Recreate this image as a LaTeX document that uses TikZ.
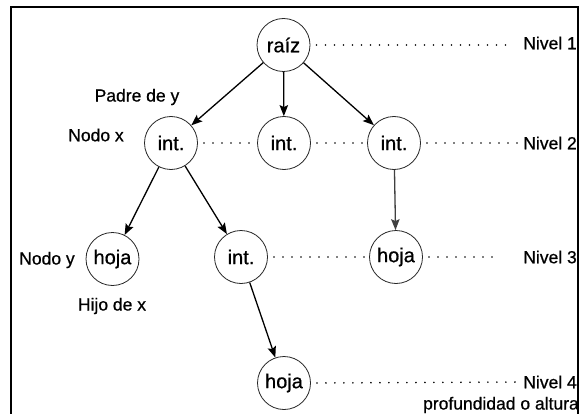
\documentclass[tikz,border=0pt]{standalone}
\usepackage{fontspec}
\setmainfont{Liberation Sans}[FakeBold=0.7]
\usetikzlibrary{arrows.meta}
\begin{document}
\begin{tikzpicture}[x=1pt,y=-1pt,
  treenode/.style={circle,draw=black!85,line width=0.8pt,minimum size=53pt,inner sep=0pt,font=\fontsize{20}{20}\selectfont},
  lbl/.style={inner sep=0pt,font=\fontsize{17.5}{17.5}\selectfont},
  edge/.style={line width=1.3pt,-{Stealth[length=11pt,width=8.5pt,inset=2pt]}},
  levelline/.style={line width=1.8pt,line cap=round,dash pattern=on 0pt off 9pt},
  frameline/.style={line width=1.4pt}]
\useasboundingbox (0,0) rectangle (585,414);

% open frame: left, top and right sides
\draw[frameline] (11,414) -- (11,7) -- (578,7) -- (578,414);

% tree nodes
\node[treenode] (r) at (283.5,45) {raíz};
\node[treenode] (a) at (171,143) {int.};
\node[treenode] (b) at (284,143) {int.};
\node[treenode] (c) at (394,143) {int.};
\node[treenode] (d) at (112.5,259) {hoja};
\node[treenode] (e) at (241,257) {int.};
\node[treenode] (f) at (396,257) {hoja};
\node[treenode] (g) at (284,383) {hoja};

% side labels
\node[lbl] (padre) at (137,97) {Padre de y};
\node[lbl] (nodox) at (96,135) {Nodo x};
\node[lbl] (nodoy) at (47,260) {Nodo y};
\node[lbl] (hijo) at (112,306) {Hijo de x};

% level labels
\node[lbl,anchor=east] (n1) at (577,43) {Nivel 1};
\node[lbl,anchor=east] (n2) at (577,143) {Nivel 2};
\node[lbl,anchor=east] (n3) at (577,257) {Nivel 3};
\node[lbl,anchor=east] (n4) at (577,382) {Nivel 4};
\node[lbl,anchor=east] (prof) at (579,405) {profundidad o altura};

% free ends of the dotted level lines
\coordinate (l1end) at (512,45);
\coordinate (l3end) at (498,257);

% dotted level lines
\draw[levelline] ([xshift=6pt]r.east) -- (l1end);
\draw[levelline] ([xshift=6pt]a.east) -- (b.west);
\draw[levelline] ([xshift=6pt]b.east) -- (c.west);
\draw[levelline] ([xshift=6pt]c.east) -- ([xshift=-3pt]n2.west);
\draw[levelline] ([xshift=6pt]e.east) -- (f.west);
\draw[levelline] ([xshift=6pt]f.east) -- (l3end);
\draw[levelline] ([xshift=6pt]g.east) -- ([xshift=-3pt]n4.west);

% parent-child arrows
\draw[edge] (r) -- (a);
\draw[edge] (r) -- (b);
\draw[edge] (r) -- (c);
\draw[edge] (a) -- (d);
\draw[edge] (a) -- (e);
\draw[edge,draw=black!75,fill=black!75] (c) -- (f);
\draw[edge] (e) -- (g);
\end{tikzpicture}
\end{document}
